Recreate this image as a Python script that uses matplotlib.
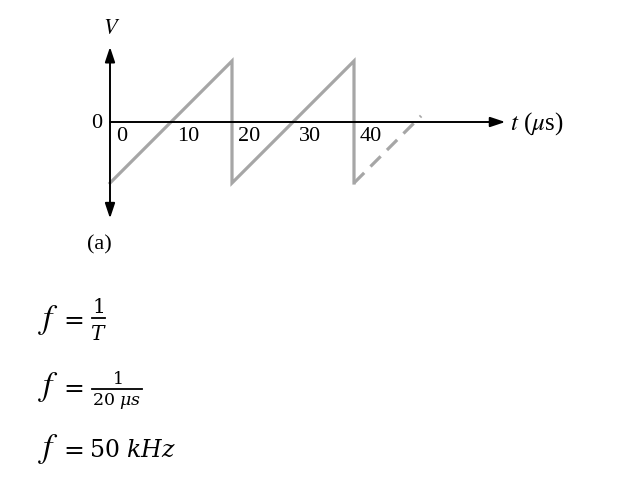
import matplotlib
matplotlib.use("Agg")
import matplotlib.pyplot as plt
from matplotlib.lines import Line2D

plt.rcParams['font.family'] = ['Liberation Serif', 'DejaVu Serif']
plt.rcParams['mathtext.fontset'] = 'stix'

# Sawtooth data (t in microseconds, V normalized)
t_solid = [0, 20, 20, 40, 40]
v_solid = [-1, 1, -1, 1, -1]
t_dash = [40, 51]
v_dash = [-1, 0.1]
tick_vals = [0, 10, 20, 30, 40]
tick_labels = ['0', '10', '20', '30', '40']

W, H = 632, 487
fig = plt.figure(figsize=(W / 100, H / 100), dpi=100)
ax = fig.add_axes([0, 0, 1, 1])
px_t, px_v = 6.1, 61.0   # pixels per unit
x0, y0 = 110, 122        # pixel position of origin (from top)
ax.set_xlim(-x0 / px_t, (W - x0) / px_t)
ax.set_ylim((y0 - H) / px_v, y0 / px_v)
ax.axis('off')

gray = '#a6a6a6'
ax.plot(t_solid, v_solid, color=gray, lw=2.3, solid_joinstyle='miter')
ax.plot(t_dash, v_dash, color=gray, lw=2.3, dashes=(4.5, 2.8))

arrow = dict(arrowstyle='-|>,head_length=0.9,head_width=0.3', color='black', lw=1.4,
             shrinkA=0, shrinkB=0)
ax.annotate('', xy=(64.8, 0), xytext=(0, 0), arrowprops=arrow)
ax.annotate('', xy=(0, 1.23), xytext=(0, 0), arrowprops=arrow)
ax.annotate('', xy=(0, -1.58), xytext=(0, 0), arrowprops=arrow)

for tv, lab in zip(tick_vals, tick_labels):
    ax.text(tv + 1.0, -0.08, lab, ha='left', va='top', fontsize=16)

ax.text(-1.3, -0.03, '0', ha='right', va='center', fontsize=16)
ax.text(0.3, 1.51, r'$V$', ha='center', va='center', fontsize=16)
ax.text(65.6, -0.02, r'$t$ ($\mu$s)', ha='left', va='center', fontsize=18)
ax.text(-1.8, -2.02, '(a)', ha='center', va='center', fontsize=16)

# Equations (built from pieces)
def ft(x, y, s, size, ha='left', va='baseline', **kw):
    fig.text(x / W, 1 - y / H, s, ha=ha, va=va, fontsize=size, **kw)

def fbar(xa, xb, y):
    fig.add_artist(Line2D([xa / W, xb / W], [1 - y / H, 1 - y / H],
                          color='black', lw=1.3, transform=fig.transFigure))

dj = dict(math_fontfamily='dejavuserif')
eq_base = [328, 395, 457]
for yb in eq_base:
    ft(48.5, yb, r'$f$', 24, ha='center')
    ft(74, yb + 0.5, '=', 18, ha='center', family='DejaVu Sans')

# line 1: f = 1/T
ft(98.5, 313, r'$1$', 14.5, ha='center', **dj)
fbar(92, 105, 318)
ft(98.5, 340, r'$T$', 14.5, ha='center', **dj)
# line 2: f = 1/(20 us)
ft(117, 384, r'$1$', 12.5, ha='center', **dj)
fbar(92, 142, 388.5)
ft(117, 405, r'$20\ \mu s$', 12.5, ha='center', **dj)
# line 3: f = 50 kHz
ft(89, 457, r'$50\ kHz$', 17, **dj)

fig.savefig('out.png', dpi=100)
